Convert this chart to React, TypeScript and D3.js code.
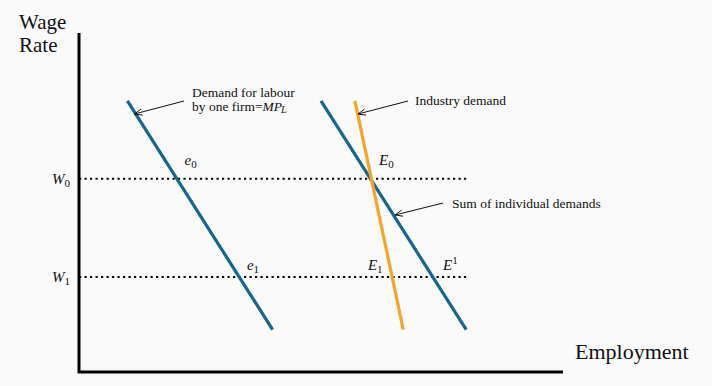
import { useEffect, useRef } from 'react';
import * as d3 from 'd3';

// demand curves, as [employment, wage] end points
const firmDemand: [number, number][] = [[1.0, 8.0], [4.0, 1.25]];
const sumDemand: [number, number][] = [[5.0, 8.0], [8.0, 1.25]];
const industryDemand: [number, number][] = [[5.7, 8.0], [6.7, 1.25]];

const wageLevels = [5.7, 2.8];
const wageLabels = ['0', '1'];
const wageLineEnd = 8.05;

// point labels: [x, y, main, index, superscript?]
const pointLabels: [number, number, string, string, boolean][] = [
  [2.18, 6.1, 'e', '0', false],
  [3.47, 3.0, 'e', '1', false],
  [6.2, 6.1, 'E', '0', false],
  [5.97, 3.0, 'E', '1', false],
  [7.52, 3.0, 'E', '1', true],
];

const App = () => {
  const chartRef = useRef<SVGSVGElement | null>(null);

  useEffect(() => {
    if (!chartRef.current) return;
    document.body.style.margin = '0';
    document.body.style.background = '#fafafa';

    const svg = d3.select(chartRef.current);
    svg.selectAll('*').remove();

    const x = d3.scaleLinear().domain([0, 10]).range([79, 563]);
    const y = d3.scaleLinear().domain([0, 10]).range([372, 33]);
    const serif = '"Liberation Serif", "Times New Roman", serif';

    svg.append('rect').attr('width', 712).attr('height', 386).attr('fill', '#fafafa');

    const defs = svg.append('defs');
    defs.append('marker')
      .attr('id', 'arr')
      .attr('viewBox', '0 0 10 10')
      .attr('refX', 9.5)
      .attr('refY', 5)
      .attr('markerWidth', 9)
      .attr('markerHeight', 9)
      .attr('markerUnits', 'userSpaceOnUse')
      .attr('orient', 'auto')
      .append('path')
      .attr('d', 'M1,1.5 L9.5,5 L1,8.5')
      .attr('fill', 'none')
      .attr('stroke', '#111')
      .attr('stroke-width', 1);

    // dotted wage lines
    wageLevels.forEach((w, i) => {
      svg.append('line')
        .attr('x1', x(0)).attr('x2', x(wageLineEnd))
        .attr('y1', y(w)).attr('y2', y(w))
        .attr('stroke', '#000')
        .attr('stroke-width', 2)
        .attr('stroke-dasharray', '2.2,3.3');

      const t = svg.append('text')
        .attr('x', 52).attr('y', y(w) + 5)
        .attr('font-family', serif)
        .attr('font-size', 15)
        .attr('fill', '#111');
      t.append('tspan').attr('font-style', 'italic').text('W');
      t.append('tspan').attr('dy', 3).attr('font-size', 11).text(wageLabels[i]);
    });

    // axes
    svg.append('path')
      .attr('d', `M${x(0)},33 V${y(0)} H${x(10)}`)
      .attr('fill', 'none')
      .attr('stroke', '#000')
      .attr('stroke-width', 3);

    const line = d3.line<[number, number]>().x(d => x(d[0])).y(d => y(d[1]));
    const curves: [[number, number][], string][] = [
      [firmDemand, '#17658a'],
      [sumDemand, '#17658a'],
      [industryDemand, '#f7a428'],
    ];
    curves.forEach(([pts, color]) => {
      svg.append('path')
        .attr('d', line(pts))
        .attr('fill', 'none')
        .attr('stroke', color)
        .attr('stroke-width', 3.2);
    });

    // point labels
    pointLabels.forEach(([px, py, main, idx, sup]) => {
      const t = svg.append('text')
        .attr('x', x(px)).attr('y', y(py))
        .attr('font-family', serif)
        .attr('font-size', 15)
        .attr('fill', '#111');
      t.append('tspan').attr('font-style', 'italic').text(main);
      t.append('tspan')
        .attr('dy', sup ? -6 : 3)
        .attr('font-size', 11)
        .text(idx);
    });

    // annotations with arrows
    const arrow = (x1: number, y1: number, x2: number, y2: number) => {
      svg.append('line')
        .attr('x1', x1).attr('y1', y1)
        .attr('x2', x2).attr('y2', y2)
        .attr('stroke', '#111')
        .attr('stroke-width', 1)
        .attr('marker-end', 'url(#arr)');
    };
    const note = (tx: number, ty: number, s: string) => {
      svg.append('text')
        .attr('x', tx).attr('y', ty)
        .attr('font-family', serif)
        .attr('font-size', 13.5)
        .attr('fill', '#111')
        .text(s);
    };

    arrow(184, 101, x(1.0) + 7, 114);
    note(192, 97, 'Demand for labour');
    const mp = svg.append('text')
      .attr('x', 192).attr('y', 110.5)
      .attr('font-family', serif)
      .attr('font-size', 13.5)
      .attr('fill', '#111');
    mp.append('tspan').text('by one firm=');
    mp.append('tspan').attr('font-style', 'italic').text('MP');
    mp.append('tspan').attr('font-style', 'italic').attr('font-size', 10).attr('dy', 2).attr('dx', -1).text('L');

    arrow(408, 101, 358, 114);
    note(415, 105, 'Industry demand');

    arrow(443, 203, 395, 215);
    note(452, 208, 'Sum of individual demands');

    // axis titles
    svg.append('text')
      .attr('x', 19).attr('y', 29)
      .attr('font-family', serif).attr('font-size', 21).attr('fill', '#111')
      .text('Wage');
    svg.append('text')
      .attr('x', 19).attr('y', 52)
      .attr('font-family', serif).attr('font-size', 21).attr('fill', '#111')
      .text('Rate');
    svg.append('text')
      .attr('x', 575).attr('y', 359)
      .attr('font-family', serif).attr('font-size', 22).attr('fill', '#111')
      .text('Employment');
  }, []);

  return (
    <svg
      ref={chartRef}
      width={712}
      height={386}
      style={{ position: 'absolute', left: 0, top: 0, display: 'block' }}
    ></svg>
  );
};

export default App;
